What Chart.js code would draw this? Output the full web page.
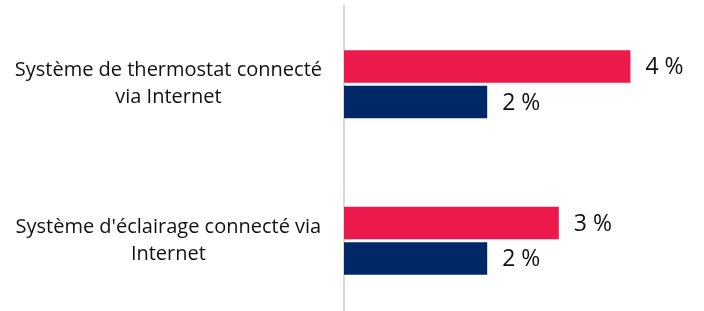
<!DOCTYPE html>
<html>
<head>
<meta charset="utf-8">
<script src="https://cdn.jsdelivr.net/npm/chart.js@4"></script>
<style>
  html, body { margin: 0; padding: 0; background: #fff; overflow: hidden; }
  #wrap { position: relative; width: 704px; height: 319px; }
</style>
</head>
<body>
<div id="wrap"><canvas id="chart"></canvas></div>
<script>
const categories = [
  ["Système de thermostat connecté", "via Internet"],
  ["Système d'éclairage connecté via", "Internet"],
];
const seriesA = [4, 3];
const seriesB = [2, 2];
const seriesColors = ["#EC194C", "#002766"];

const valueLabels = {
  id: "valueLabels",
  afterDatasetsDraw(chart) {
    const ctx = chart.ctx;
    ctx.save();
    ctx.fillStyle = "#111111";
    ctx.font = "23px 'Open Sans', sans-serif";
    ctx.textBaseline = "middle";
    ctx.textAlign = "left";
    chart.data.datasets.forEach((ds, i) => {
      chart.getDatasetMeta(i).data.forEach((bar, j) => {
        ctx.fillText(`${ds.data[j]}\u00a0%`, bar.x + 15, bar.y + 1);
      });
    });
    ctx.restore();
  },
};

new Chart(document.getElementById("chart").getContext("2d"), {
  type: "bar",
  data: {
    labels: categories,
    datasets: [
      { data: seriesA, backgroundColor: seriesColors[0] },
      { data: seriesB, backgroundColor: seriesColors[1] },
    ],
  },
  options: {
    indexAxis: "y",
    responsive: true,
    maintainAspectRatio: false,
    animation: false,
    layout: { padding: { top: 6, right: 2, left: 0, bottom: 0 } },
    categoryPercentage: 0.454,
    barPercentage: 0.915,
    plugins: { legend: { display: false }, tooltip: { enabled: false } },
    scales: {
      x: { display: false, min: 0, max: 5 },
      y: {
        grid: { display: false, drawTicks: false },
        border: { display: true, color: "#d9d9d9", width: 2 },
        afterFit(scale) {
          scale.width = 344;
          scale.paddingTop = 0;
          scale.paddingBottom = 0;
        },
        ticks: {
          crossAlign: "center",
          padding: 22,
          color: "#111111",
          font: { family: "'Open Sans', sans-serif", size: 20, lineHeight: 1.35 },
        },
      },
    },
  },
  plugins: [valueLabels],
});
</script>
</body>
</html>
